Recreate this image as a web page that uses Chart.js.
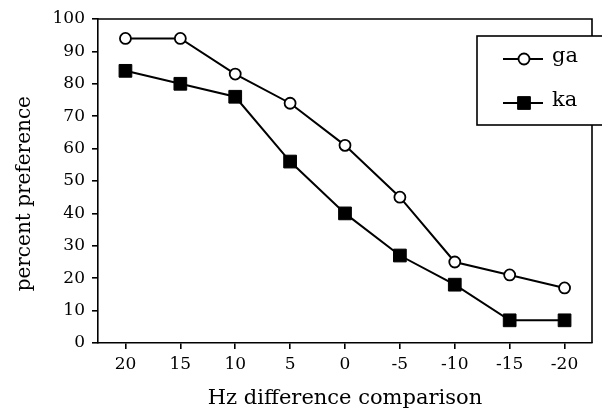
<!DOCTYPE html>
<html>
<head>
<meta charset="utf-8">
<script src="https://cdn.jsdelivr.net/npm/chart.js@4/dist/chart.umd.min.js"></script>
<style>
  html, body { margin: 0; padding: 0; background: #fff; }
  #wrap { width: 602px; height: 414px; }
</style>
</head>
<body>
<div id="wrap"><canvas id="chart" width="602" height="414"></canvas></div>
<script>
const hzLabels = ['20', '15', '10', '5', '0', '-5', '-10', '-15', '-20'];
const gaValues = [94, 94, 83, 74, 61, 45, 25, 21, 17];
const kaValues = [84, 80, 76, 56, 40, 27, 18, 7, 7];
const yTicks = [0, 10, 20, 30, 40, 50, 60, 70, 80, 90, 100];

const serif = "'DejaVu Serif', 'Liberation Serif', serif";

// top/right frame lines plus the boxed legend in the upper right
const frameAndLegend = {
    id: 'frameAndLegend',
    afterDatasetsDraw(chart) {
        const { ctx, chartArea } = chart;
        ctx.save();
        ctx.strokeStyle = '#000';
        ctx.lineWidth = 1.6;
        ctx.beginPath();
        ctx.moveTo(chartArea.left, chartArea.top);
        ctx.lineTo(chartArea.right, chartArea.top);
        ctx.lineTo(chartArea.right, chartArea.bottom);
        ctx.stroke();

        // legend box
        const box = { x: 477, y: 36, w: 140, h: 89 };
        ctx.fillStyle = '#fff';
        ctx.fillRect(box.x, box.y, box.w, box.h);
        ctx.strokeRect(box.x, box.y, box.w, box.h);

        chart.data.datasets.forEach((ds, i) => {
            const rowY = 59 + i * 44;
            ctx.lineWidth = ds.borderWidth;
            ctx.strokeStyle = '#000';
            ctx.beginPath();
            ctx.moveTo(503, rowY);
            ctx.lineTo(543, rowY);
            ctx.stroke();

            ctx.fillStyle = ds.pointBackgroundColor;
            ctx.lineWidth = ds.pointBorderWidth;
            ctx.beginPath();
            if (ds.pointStyle === 'circle') {
                ctx.arc(524, rowY, ds.pointRadius, 0, Math.PI * 2);
            } else {
                const s = ds.pointRadius * Math.SQRT1_2;
                ctx.rect(524 - s, rowY - s, 2 * s, 2 * s);
            }
            ctx.fill();
            ctx.stroke();

            ctx.fillStyle = '#000';
            ctx.font = '21px ' + serif;
            ctx.textAlign = 'left';
            ctx.textBaseline = 'middle';
            ctx.fillText(ds.label, 552, rowY - 2);
        });
        ctx.restore();
    }
};

new Chart(document.getElementById('chart'), {
    type: 'line',
    data: {
        labels: hzLabels,
        datasets: [
            {
                label: 'ga',
                data: gaValues,
                borderColor: '#000',
                borderWidth: 2,
                pointStyle: 'circle',
                pointRadius: 5.5,
                pointBorderWidth: 1.8,
                pointBackgroundColor: '#fff',
                pointBorderColor: '#000',
                tension: 0
            },
            {
                label: 'ka',
                data: kaValues,
                borderColor: '#000',
                borderWidth: 2,
                pointStyle: 'rect',
                pointRadius: 9,
                pointBorderWidth: 1,
                pointBackgroundColor: '#000',
                pointBorderColor: '#000',
                tension: 0
            }
        ]
    },
    options: {
        responsive: false,
        animation: false,
        layout: { padding: { top: 19, right: 10, left: 0, bottom: 0 } },
        plugins: {
            legend: { display: false },
            tooltip: { enabled: false }
        },
        scales: {
            x: {
                offset: true,
                afterFit: (scale) => { scale.height = 71; },
                border: { display: true, color: '#000', width: 1.6 },
                grid: {
                    drawOnChartArea: false,
                    drawTicks: true,
                    tickLength: 6,
                    color: '#000',
                    lineWidth: 1.6
                },
                ticks: {
                    color: '#000',
                    padding: 5,
                    maxRotation: 0,
                    font: { family: serif, size: 17 }
                },
                title: {
                    display: true,
                    text: 'Hz difference comparison',
                    color: '#000',
                    padding: { top: 0, bottom: 3 },
                    font: { family: serif, size: 21 }
                }
            },
            y: {
                min: 0,
                max: 100,
                afterFit: (scale) => { scale.width = 98; },
                afterBuildTicks: (scale) => {
                    scale.ticks = yTicks.map(v => ({ value: v }));
                },
                border: { display: true, color: '#000', width: 1.6 },
                grid: {
                    drawOnChartArea: false,
                    drawTicks: true,
                    tickLength: 6,
                    color: '#000',
                    lineWidth: 1.6
                },
                ticks: {
                    color: '#000',
                    padding: 7,
                    font: { family: serif, size: 17 }
                },
                title: {
                    display: true,
                    text: 'percent preference    ',
                    color: '#000',
                    padding: { top: 13, bottom: 0 },
                    font: { family: serif, size: 20 }
                }
            }
        }
    },
    plugins: [frameAndLegend]
});
</script>
</body>
</html>
